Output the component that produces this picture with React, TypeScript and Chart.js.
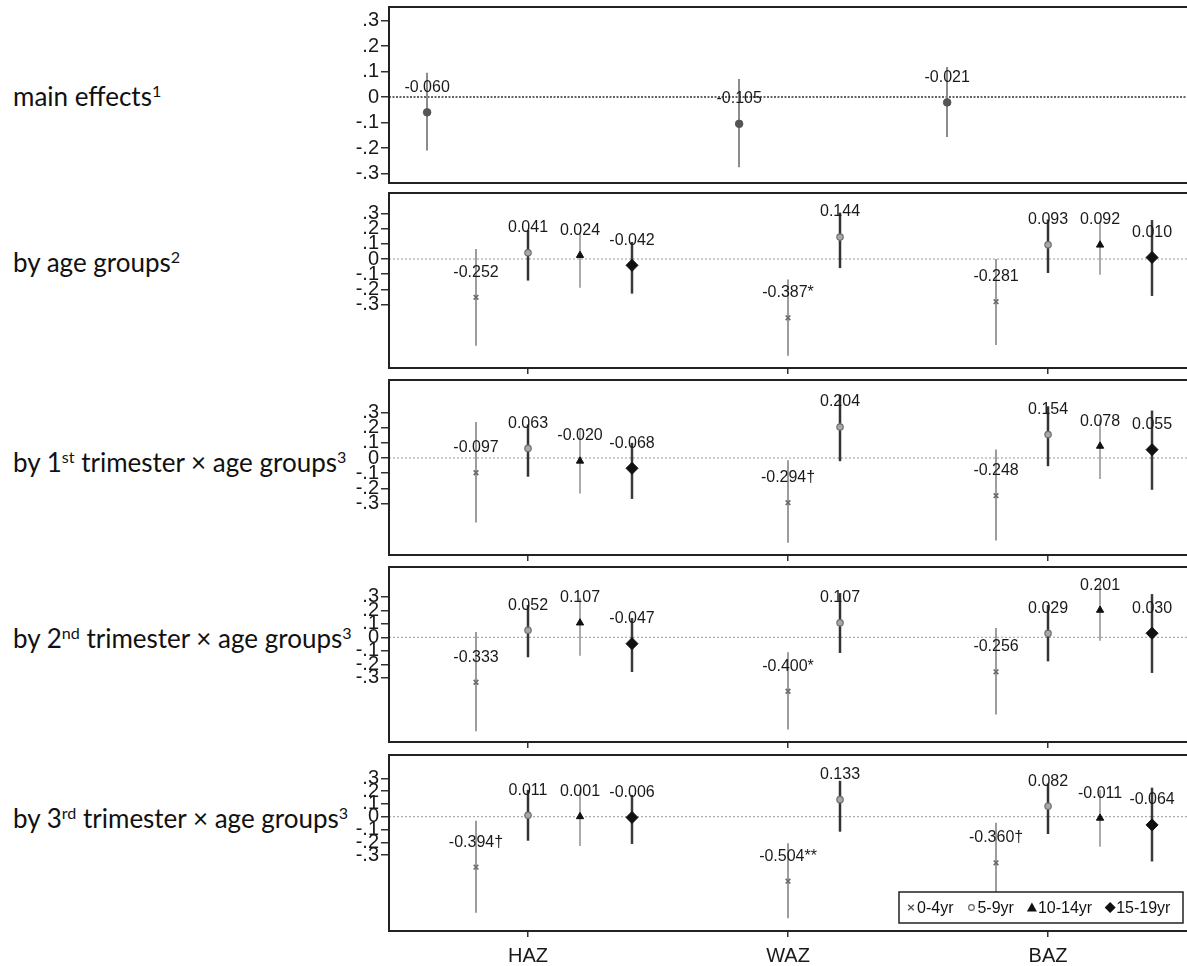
import React, { useEffect, useRef } from 'react';
import { Chart, registerables } from 'chart.js';

Chart.register(...registerables);

// ---------- data ----------
const OUTCOMES = ['HAZ', 'WAZ', 'BAZ'];
const OUTCOME_TICK_X = [1, 6, 11];
const AGE_GROUPS = ['0-4yr', '5-9yr', '10-14yr', '15-19yr'];
// x-axis positions (axis units) of each age group, for HAZ / WAZ / BAZ
const AGE_X = [[0, 6, 10], [1, 7, 11], [2, 12], [3, 13]];
const MAIN_X = [-0.94, 5.06, 9.06];
const Y_TICKS = [-0.3, -0.2, -0.1, 0, 0.1, 0.2, 0.3];

const MAIN_EST = [-0.06, -0.105, -0.021];
const MAIN_LO = [-0.21, -0.275, -0.157];
const MAIN_HI = [0.095, 0.071, 0.118];

const AGE_EST = [[-0.252, -0.387, -0.281], [0.041, 0.144, 0.093], [0.024, 0.092], [-0.042, 0.01]];
const AGE_LO = [[-0.57, -0.637, -0.566], [-0.142, -0.06, -0.092], [-0.189, -0.103], [-0.228, -0.243]];
const AGE_HI = [[0.065, -0.135, 0.0], [0.19, 0.305, 0.26], [0.176, 0.25], [0.112, 0.256]];
const AGE_SIG = [['', '*', ''], ['', '', ''], ['', ''], ['', '']];

const T1_EST = [[-0.097, -0.294, -0.248], [0.063, 0.204, 0.154], [-0.02, 0.078], [-0.068, 0.055]];
const T1_LO = [[-0.424, -0.557, -0.542], [-0.123, -0.021, -0.054], [-0.234, -0.138], [-0.269, -0.209]];
const T1_HI = [[0.237, -0.015, 0.056], [0.22, 0.415, 0.34], [0.19, 0.254], [0.1, 0.312]];
const T1_SIG = [['', '†', ''], ['', '', ''], ['', ''], ['', '']];

const T2_EST = [[-0.333, -0.4, -0.256], [0.052, 0.107, 0.029], [0.107, 0.201], [-0.047, 0.03]];
const T2_LO = [[-0.696, -0.684, -0.573], [-0.148, -0.116, -0.178], [-0.136, -0.025], [-0.257, -0.264]];
const T2_HI = [[0.039, -0.111, 0.069], [0.24, 0.328, 0.24], [0.29, 0.39], [0.143, 0.32]];
const T2_SIG = [['', '*', ''], ['', '', ''], ['', ''], ['', '']];

const T3_EST = [[-0.394, -0.504, -0.36], [0.011, 0.133, 0.082], [0.001, -0.011], [-0.006, -0.064]];
const T3_LO = [[-0.75, -0.794, -0.67], [-0.1875, -0.117, -0.135], [-0.229, -0.234], [-0.213, -0.35]];
const T3_HI = [[-0.031, -0.208, -0.047], [0.21, 0.28, 0.26], [0.21, 0.21], [0.17, 0.227]];
const T3_SIG = [['†', '**', '†'], ['', '', ''], ['', ''], ['', '']];

const LABEL_MAIN = [['main effects', false], ['1', true]];
const LABEL_AGE = [['by age groups', false], ['2', true]];
const LABEL_T1 = [['by 1', false], ['st', true], [' trimester × age groups', false], ['3', true]];
const LABEL_T2 = [['by 2', false], ['nd', true], [' trimester × age groups', false], ['3', true]];
const LABEL_T3 = [['by 3', false], ['rd', true], [' trimester × age groups', false], ['3', true]];

// ---------- styles ----------
const FONT = "'Liberation Sans', Arial, Helvetica, sans-serif";
const CANVAS_LEFT = 300;
const CANVAS_W = 890;
const PAD_TOP = 16;
const Y_AXIS_W = 89;
const X_MIN = -1.673;
const X_MAX = 13.71;

const AGE_STYLE = [
  { pointStyle: 'crossRot', radius: 3.3, bg: '#777', border: '#6a6a6a', bw: 1.6, ci: '#9d9d9d', ciW: 2 },
  { pointStyle: 'circle', radius: 3.2, bg: '#a8a8a8', border: '#6e6e6e', bw: 1.2, ci: '#333', ciW: 2.5 },
  { pointStyle: 'triangle', radius: 4.2, bg: '#111', border: '#111', bw: 1, ci: '#ababab', ciW: 2 },
  { pointStyle: 'rectRot', radius: 6, bg: '#111', border: '#111', bw: 1, ci: '#3a3a3a', ciW: 2.5 },
];

type PanelCfg = {
  top: number;
  bottom: number;
  yMin: number;
  yMax: number;
  labelY: number;
  label: any[];
  xTicks: boolean;
  xLabels: boolean;
  xAxisH: number;
  legend: boolean;
  zero: { color: string; dash: number[]; width: number };
  datasets: any[];
};

function ageDatasets(est: number[][], lo: number[][], hi: number[][], sig: string[][]) {
  return AGE_GROUPS.map((g, k) => {
    const s = AGE_STYLE[k];
    return {
      label: g,
      data: est[k].map((v, i) => ({ x: AGE_X[k][i], y: v })),
      lo: lo[k],
      hi: hi[k],
      sig: sig[k],
      ciColor: s.ci,
      ciWidth: s.ciW,
      pointStyle: s.pointStyle,
      pointRadius: s.radius,
      backgroundColor: s.bg,
      borderColor: s.border,
      borderWidth: s.bw,
      showLine: false,
    };
  });
}

const GRID_ZERO = { color: '#9a9a9a', dash: [2, 2], width: 1 };

const PANELS: PanelCfg[] = [
  {
    top: 7, bottom: 183, yMin: -0.337, yMax: 0.353, labelY: 96, label: LABEL_MAIN,
    xTicks: false, xLabels: false, xAxisH: 16, legend: false,
    zero: { color: '#333', dash: [2, 1.5], width: 1.6 },
    datasets: [
      {
        label: 'main',
        data: MAIN_EST.map((v, i) => ({ x: MAIN_X[i], y: v })),
        lo: MAIN_LO, hi: MAIN_HI, sig: ['', '', ''],
        ciColor: '#8c8c8c', ciWidth: 2,
        pointStyle: 'circle', pointRadius: 3.8, backgroundColor: '#555', borderColor: '#555', borderWidth: 1,
        showLine: false,
      },
    ],
  },
  {
    top: 193, bottom: 368, yMin: -0.717, yMax: 0.434, labelY: 262, label: LABEL_AGE,
    xTicks: true, xLabels: false, xAxisH: 16, legend: false, zero: GRID_ZERO,
    datasets: ageDatasets(AGE_EST, AGE_LO, AGE_HI, AGE_SIG),
  },
  {
    top: 380, bottom: 555, yMin: -0.638, yMax: 0.513, labelY: 462, label: LABEL_T1,
    xTicks: true, xLabels: false, xAxisH: 16, legend: false, zero: GRID_ZERO,
    datasets: ageDatasets(T1_EST, T1_LO, T1_HI, T1_SIG),
  },
  {
    top: 567, bottom: 742, yMin: -0.776, yMax: 0.521, labelY: 638, label: LABEL_T2,
    xTicks: true, xLabels: false, xAxisH: 16, legend: false, zero: GRID_ZERO,
    datasets: ageDatasets(T2_EST, T2_LO, T2_HI, T2_SIG),
  },
  {
    top: 755, bottom: 931, yMin: -0.893, yMax: 0.482, labelY: 818, label: LABEL_T3,
    xTicks: true, xLabels: true, xAxisH: 40, legend: true, zero: GRID_ZERO,
    datasets: ageDatasets(T3_EST, T3_LO, T3_HI, T3_SIG),
  },
];

function fmtTick(v: number) {
  if (Math.abs(v) < 1e-9) return '0';
  const d = Math.round(Math.abs(v) * 10);
  return (v < 0 ? '-' : '') + '.' + d;
}

function drawLegendMarker(ctx: CanvasRenderingContext2D, k: number, cx: number, cy: number) {
  ctx.save();
  if (k === 0) {
    ctx.strokeStyle = '#555';
    ctx.lineWidth = 1.4;
    ctx.beginPath();
    ctx.moveTo(cx - 2.8, cy - 2.8); ctx.lineTo(cx + 2.8, cy + 2.8);
    ctx.moveTo(cx + 2.8, cy - 2.8); ctx.lineTo(cx - 2.8, cy + 2.8);
    ctx.stroke();
  } else if (k === 1) {
    ctx.strokeStyle = '#666';
    ctx.lineWidth = 1.2;
    ctx.beginPath();
    ctx.arc(cx, cy, 2.8, 0, Math.PI * 2);
    ctx.stroke();
  } else if (k === 2) {
    ctx.fillStyle = '#111';
    ctx.beginPath();
    ctx.moveTo(cx, cy - 5); ctx.lineTo(cx + 5, cy + 4); ctx.lineTo(cx - 5, cy + 4);
    ctx.closePath();
    ctx.fill();
  } else {
    ctx.fillStyle = '#111';
    ctx.beginPath();
    ctx.moveTo(cx, cy - 5.5); ctx.lineTo(cx + 5.5, cy); ctx.lineTo(cx, cy + 5.5); ctx.lineTo(cx - 5.5, cy);
    ctx.closePath();
    ctx.fill();
  }
  ctx.restore();
}

function makePlugin(p: PanelCfg) {
  return {
    id: 'panelDecor',
    beforeDatasetsDraw(chart: any) {
      const { ctx, chartArea: a, scales } = chart;
      const x = scales.x;
      const y = scales.y;
      ctx.save();
      ctx.beginPath();
      ctx.rect(a.left, a.top, a.right - a.left, a.bottom - a.top);
      ctx.clip();
      // zero reference line
      const y0 = y.getPixelForValue(0);
      ctx.setLineDash(p.zero.dash);
      ctx.strokeStyle = p.zero.color;
      ctx.lineWidth = p.zero.width;
      ctx.beginPath();
      ctx.moveTo(a.left, y0);
      ctx.lineTo(a.right, y0);
      ctx.stroke();
      ctx.setLineDash([]);
      // confidence intervals
      chart.data.datasets.forEach((ds: any) => {
        ds.data.forEach((pt: any, i: number) => {
          const px = Math.round(x.getPixelForValue(pt.x));
          ctx.strokeStyle = ds.ciColor;
          ctx.lineWidth = ds.ciWidth;
          ctx.beginPath();
          ctx.moveTo(px, y.getPixelForValue(ds.lo[i]));
          ctx.lineTo(px, y.getPixelForValue(ds.hi[i]));
          ctx.stroke();
        });
      });
      ctx.restore();
    },
    afterDatasetsDraw(chart: any) {
      const { ctx, scales } = chart;
      const x = scales.x;
      const y = scales.y;
      ctx.save();
      ctx.font = `16px ${FONT}`;
      ctx.fillStyle = '#1a1a1a';
      ctx.textAlign = 'center';
      ctx.textBaseline = 'middle';
      chart.data.datasets.forEach((ds: any) => {
        ds.data.forEach((pt: any, i: number) => {
          const txt = pt.y.toFixed(3) + (ds.sig[i] || '');
          ctx.fillText(txt, x.getPixelForValue(pt.x), y.getPixelForValue(pt.y) - 25);
        });
      });
      ctx.restore();
    },
    afterDraw(chart: any) {
      const { ctx, chartArea: a } = chart;
      ctx.save();
      if (p.legend) {
        const w = 284;
        const h = 31;
        const lx = a.right - 6 - w;
        const ly = a.bottom - 8 - h;
        ctx.fillStyle = '#fff';
        ctx.fillRect(lx, ly, w, h);
        ctx.strokeStyle = '#222';
        ctx.lineWidth = 1.5;
        ctx.strokeRect(lx, ly, w, h);
        ctx.font = `16px ${FONT}`;
        ctx.fillStyle = '#111';
        ctx.textAlign = 'left';
        ctx.textBaseline = 'middle';
        let cx = lx + 8;
        const cy = ly + h / 2;
        AGE_GROUPS.forEach((g, k) => {
          drawLegendMarker(ctx, k, cx + 4, cy);
          ctx.fillText(g, cx + 10, cy + 1);
          cx += 10 + ctx.measureText(g).width + 14;
        });
      }
      ctx.strokeStyle = '#222';
      ctx.lineWidth = 2;
      ctx.strokeRect(a.left, a.top, a.right - a.left, a.bottom - a.top);
      ctx.restore();
    },
  };
}

function Panel({ p }: { p: PanelCfg }) {
  const ref = useRef<HTMLCanvasElement>(null);
  const height = PAD_TOP + (p.bottom - p.top) + p.xAxisH;
  useEffect(() => {
    if (!ref.current) return;
    const chart = new Chart(ref.current, {
      type: 'scatter',
      data: { datasets: p.datasets },
      options: {
        responsive: false,
        animation: false,
        events: [],
        layout: { autoPadding: false, padding: { top: PAD_TOP, right: 1, bottom: 0, left: 0 } },
        plugins: { legend: { display: false }, tooltip: { enabled: false } },
        scales: {
          x: {
            type: 'linear',
            min: X_MIN,
            max: X_MAX,
            afterBuildTicks: (s: any) => {
              s.ticks = OUTCOME_TICK_X.map((v) => ({ value: v }));
            },
            afterFit: (s: any) => {
              s.height = p.xAxisH;
            },
            grid: {
              display: p.xTicks,
              drawOnChartArea: false,
              drawTicks: true,
              tickLength: 6,
              color: '#333',
              lineWidth: 1.5,
            },
            border: { display: false },
            ticks: {
              display: p.xLabels,
              autoSkip: false,
              maxRotation: 0,
              padding: 7,
              color: '#1a1a1a',
              font: { family: FONT, size: 20 },
              callback: (v: any) => {
                const idx = OUTCOME_TICK_X.indexOf(Number(v));
                return idx >= 0 ? OUTCOMES[idx] : '';
              },
            },
          },
          y: {
            min: p.yMin,
            max: p.yMax,
            afterBuildTicks: (s: any) => {
              s.ticks = Y_TICKS.map((v) => ({ value: v }));
            },
            afterFit: (s: any) => {
              s.width = Y_AXIS_W;
            },
            grid: {
              display: true,
              drawOnChartArea: false,
              drawTicks: true,
              tickLength: 8,
              color: '#333',
              lineWidth: 1.5,
            },
            border: { display: false },
            ticks: {
              autoSkip: false,
              padding: 2,
              color: '#1a1a1a',
              font: { family: FONT, size: 20 },
              callback: (v: any) => fmtTick(Number(v)),
            },
          },
        },
      },
      plugins: [makePlugin(p)],
    } as any);
    return () => chart.destroy();
  }, [p]);
  return (
    <canvas
      ref={ref}
      width={CANVAS_W}
      height={height}
      style={{ position: 'absolute', left: CANVAS_LEFT, top: p.top - PAD_TOP, width: CANVAS_W, height }}
    />
  );
}

function SideLabel({ p }: { p: PanelCfg }) {
  return (
    <div
      style={{
        position: 'absolute',
        left: 13,
        top: p.labelY,
        transform: 'translateY(-50%)',
        fontFamily: "Lato, 'Noto Sans', sans-serif",
        fontSize: 26,
        color: '#111',
        whiteSpace: 'nowrap',
        lineHeight: 1,
      }}
    >
      {p.label.map((seg: any, i: number) =>
        seg[1] ? (
          <sup key={i} style={{ fontSize: '0.62em', verticalAlign: '0.55em', lineHeight: 0 }}>
            {seg[0]}
          </sup>
        ) : (
          <span key={i}>{seg[0]}</span>
        ),
      )}
    </div>
  );
}

export default function App() {
  return (
    <div
      style={{
        position: 'absolute',
        left: 0,
        top: 0,
        width: 1187,
        height: 966,
        overflow: 'hidden',
        background: '#fff',
      }}
    >
      {PANELS.map((p, i) => (
        <SideLabel key={'l' + i} p={p} />
      ))}
      {PANELS.map((p, i) => (
        <Panel key={'c' + i} p={p} />
      ))}
    </div>
  );
}
